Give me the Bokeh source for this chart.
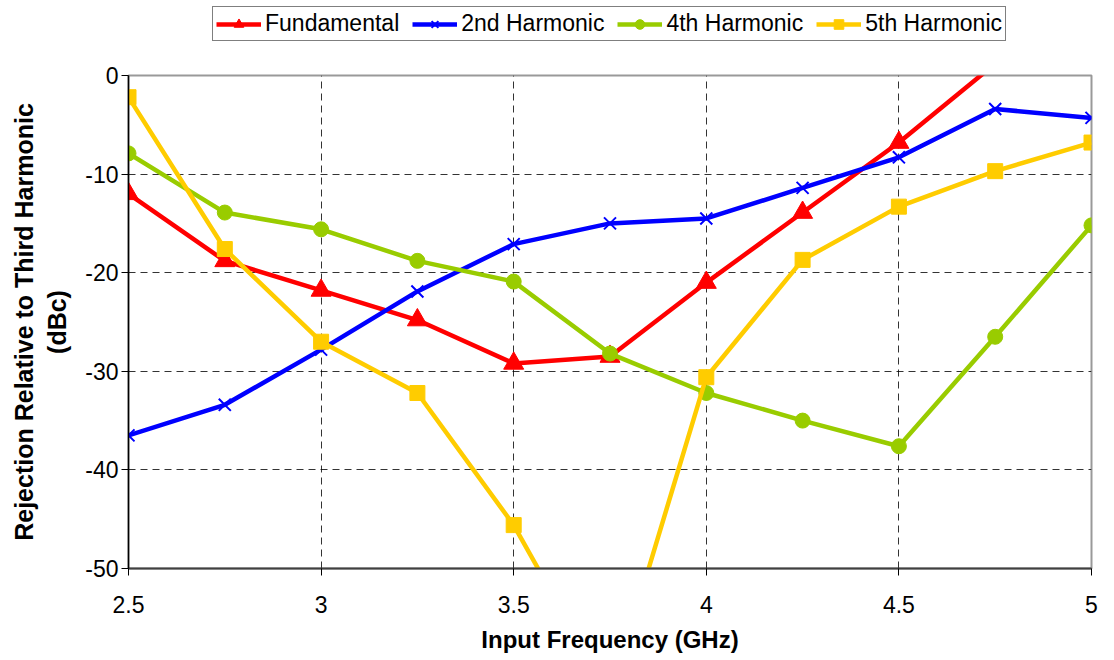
from bokeh.plotting import figure
from bokeh.models import Legend, LegendItem, Range1d, FixedTicker
from bokeh.layouts import column
from bokeh.embed import file_html
from bokeh.resources import INLINE

freq = [2.5, 2.75, 3.0, 3.25, 3.5, 3.75, 4.0, 4.25, 4.5, 4.75, 5.0]
fundamental = [-12.0, -18.8, -21.8, -24.8, -29.2, -28.5, -21.0, -13.9, -6.8, 1.2, 8.0]
harm2 = [-36.5, -33.4, -27.8, -21.9, -17.1, -15.0, -14.5, -11.4, -8.3, -3.4, -4.3]
harm4 = [-7.9, -13.9, -15.6, -18.8, -20.9, -28.2, -32.2, -35.0, -37.6, -26.5, -15.2]
harm5 = [-2.2, -17.6, -27.0, -32.2, -45.6, -63.0, -30.6, -18.7, -13.3, -9.7, -6.8]

series_names = ["Fundamental", "2nd Harmonic", "4th Harmonic", "5th Harmonic"]
x_ticks = [2.5, 3.0, 3.5, 4.0, 4.5, 5.0]
y_ticks = [0, -10, -20, -30, -40, -50]

FONT = "Liberation Sans"
RED, BLUE, GREEN, YELLOW = "#FF0000", "#0000FF", "#99CC00", "#FFCC00"
LW = 4.5

p = figure(frame_width=963, frame_height=493, title=None,
           output_backend="svg", toolbar_location=None,
           x_range=Range1d(2.5, 5.0), y_range=Range1d(-50, 0),
           min_border_left=128, min_border_right=15, min_border_top=26,
           min_border_bottom=84)

p.outline_line_color = "#999999"
p.outline_line_width = 2
p.background_fill_color = "white"

for ax in (p.xaxis[0], p.yaxis[0]):
    ax.major_label_text_font = FONT
    ax.major_label_text_font_size = "23px"
    ax.major_label_text_color = "black"
    ax.axis_label_text_font = FONT
    ax.axis_label_text_font_size = "24px"
    ax.axis_label_text_font_style = "bold"
    ax.axis_label_text_color = "black"
    ax.minor_tick_line_color = None
    ax.major_tick_in = 0
    ax.major_tick_out = 7
    ax.major_tick_line_color = "black"

p.yaxis.axis_label_text_font_size = "25px"
p.xaxis.ticker = FixedTicker(ticks=x_ticks)
p.yaxis.ticker = FixedTicker(ticks=y_ticks)
p.xaxis.major_label_overrides = {2.5: "2.5", 3.0: "3", 3.5: "3.5", 4.0: "4", 4.5: "4.5", 5.0: "5"}
p.yaxis.major_label_overrides = {0: "0", -10: "-10", -20: "-20", -30: "-30", -40: "-40", -50: "-50"}
p.xaxis.axis_label = "Input Frequency (GHz)"
p.yaxis.axis_label = "Rejection Relative to Third Harmonic\n(dBc)"
p.xaxis.axis_line_color = "#404040"
p.xaxis.axis_line_width = 2
p.yaxis.axis_line_color = "black"
p.yaxis.axis_line_width = 1.5
p.xaxis.major_label_standoff = 20
p.yaxis.major_label_standoff = 3
p.xaxis.axis_label_standoff = 10
p.yaxis.axis_label_standoff = 11

for g in (p.xgrid[0], p.ygrid[0]):
    g.grid_line_color = "black"
    g.grid_line_dash = "7 5"
    g.grid_line_width = 1
    g.grid_line_alpha = 0.8


def draw(fig, ys, color, marker, size):
    ln = fig.line(freq, ys, line_color=color, line_width=LW)
    if marker == "x":
        mk = fig.scatter(freq, ys, marker="x", size=size, line_color=color, line_width=2)
    else:
        mk = fig.scatter(freq, ys, marker=marker, size=size, fill_color=color, line_color=color)
    return ln, mk


specs = [(fundamental, RED, "triangle", 20), (harm2, BLUE, "x", 17),
         (harm4, GREEN, "circle", 15), (harm5, YELLOW, "square", 15)]
for ys, c, m, s in specs:
    draw(p, ys, c, m, s)

# legend strip above the chart (its frame is aligned with the chart's frame)
lf = figure(width=1106, height=49, output_backend="svg", toolbar_location=None,
            x_range=Range1d(100, 101), y_range=Range1d(100, 101),
            x_axis_location=None, y_axis_location=None,
            min_border_left=0, min_border_right=0, min_border_top=0, min_border_bottom=0)
lf.outline_line_color = None
lf.grid.visible = False
items = []
for name, (ys, c, m, s) in zip(series_names, specs):
    ln, mk = draw(lf, ys, c, m, s)
    items.append(LegendItem(label=name, renderers=[ln, mk]))

legend = Legend(items=items, orientation="horizontal", location=(84, 8))
legend.label_text_font = FONT
legend.label_text_font_size = "23px"
legend.label_text_color = "black"
legend.glyph_width = 45
legend.glyph_height = 24
legend.label_standoff = 4
legend.spacing = 13
legend.padding = 3
legend.margin = 0
legend.border_line_color = "black"
legend.border_line_width = 1.5
legend.background_fill_alpha = 1
legend.label_height = 24
lf.add_layout(legend, "center")

layout = column(lf, p, spacing=0)
open("out.html", "w").write(file_html(layout, INLINE))
